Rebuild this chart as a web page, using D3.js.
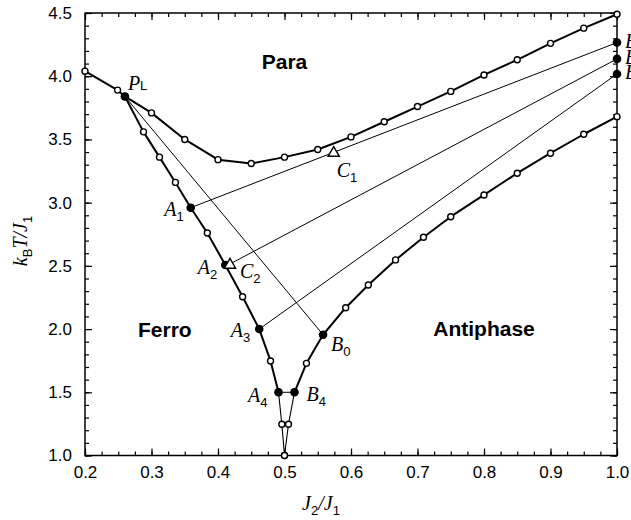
<!DOCTYPE html>
<html>
<head>
<meta charset="utf-8">
<script src="https://cdn.jsdelivr.net/npm/d3@7/dist/d3.min.js"></script>
<style>
  body { margin: 0; background: #fff; }
  svg { display: block; }
</style>
</head>
<body>
<svg width="631" height="520"></svg>
<script>
// ---- dados (J2/J1, kT/J1)
const paraJ = [0.2, 0.249, 0.26, 0.30, 0.35, 0.40, 0.45, 0.50, 0.55, 0.60, 0.65, 0.70, 0.75, 0.80, 0.85, 0.90, 0.95, 1.0];
const paraT = [4.04, 3.89, 3.84, 3.71, 3.50, 3.34, 3.31, 3.36, 3.42, 3.52, 3.64, 3.76, 3.88, 4.01, 4.13, 4.26, 4.38, 4.49];

const ferroJ = [0.26, 0.288, 0.312, 0.336, 0.359, 0.384, 0.411, 0.437, 0.462, 0.479, 0.491, 0.496, 0.5];
const ferroT = [3.84, 3.56, 3.36, 3.16, 2.96, 2.76, 2.507, 2.256, 2.0, 1.748, 1.5, 1.247, 1.0];

const antiJ = [0.5, 0.506, 0.515, 0.533, 0.558, 0.592, 0.626, 0.667, 0.709, 0.75, 0.80, 0.85, 0.90, 0.95, 1.0];
const antiT = [1.0, 1.247, 1.5, 1.729, 1.955, 2.169, 2.349, 2.547, 2.726, 2.889, 3.061, 3.233, 3.391, 3.541, 3.68];

// pontos cheios
const filledNames = ['P_L', 'A1', 'A2', 'A3', 'A4', 'B0', 'B4', 'B1', 'B2', 'B3'];
const filledJ = [0.26, 0.359, 0.411, 0.462, 0.491, 0.558, 0.515, 1.0, 1.0, 1.0];
const filledT = [3.84, 2.96, 2.507, 2.0, 1.5, 1.955, 1.5, 4.266, 4.137, 4.018];

// triângulos
const triNames = ['C1', 'C2'];
const triJ = [0.574, 0.418];
const triT = [3.40, 2.515];

// linhas finas (de -> para)
const tieFrom = ['P_L', 'A1', 'C2', 'A3', 'A4'];
const tieTo = ['B0', 'B1', 'B2', 'B3', 'B4'];

// regiões
const regionNames = ['Para', 'Ferro', 'Antiphase'];
const regionJ = [0.5, 0.32, 0.80];
const regionT = [4.06, 1.94, 1.945];

// ticks
const xTicks = [0.2, 0.3, 0.4, 0.5, 0.6, 0.7, 0.8, 0.9, 1.0];
const yTicks = [1.0, 1.5, 2.0, 2.5, 3.0, 3.5, 4.0, 4.5];

const sans = '"Liberation Sans", Arial, Helvetica, sans-serif';
const serif = '"Liberation Serif", "Times New Roman", Times, serif';

const svg = d3.select('svg');
const margens = { left: 85, right: 14, top: 13, bottom: 64.5 };
const W = 631, H = 520;

const x = d3.scaleLinear().domain([0.2, 1.0]).range([margens.left, W - margens.right]);
const y = d3.scaleLinear().domain([1.0, 4.5]).range([H - margens.bottom, margens.top]);

const fmt = d3.format('.1f');

// ---- Eixos (ticks para dentro, nos 4 lados)
const xMinor = d3.range(0.2, 1.0001, 0.025);
const yMinor = d3.range(1.0, 4.5001, 0.1);

function clean(g) {
    g.select('.domain').remove();
    g.selectAll('line').attr('stroke', '#000').attr('stroke-width', 1.2);
    g.attr('font-family', sans).attr('font-size', 17);
    g.selectAll('text').attr('fill', '#000');
}

const bottomY = H - margens.bottom;
const rightX = W - margens.right;

svg.append('g').attr('transform', `translate(0,${bottomY})`)
    .call(d3.axisBottom(x).tickValues(xMinor).tickSize(-4).tickFormat('')).call(clean);
svg.append('g').attr('transform', `translate(0,${bottomY})`)
    .call(d3.axisBottom(x).tickValues(xTicks).tickSize(-7).tickPadding(10).tickFormat(fmt)).call(clean);
svg.append('g').attr('transform', `translate(0,${margens.top})`)
    .call(d3.axisTop(x).tickValues(xMinor).tickSize(-4).tickFormat('')).call(clean);
svg.append('g').attr('transform', `translate(0,${margens.top})`)
    .call(d3.axisTop(x).tickValues(xTicks).tickSize(-7).tickFormat('')).call(clean);

svg.append('g').attr('transform', `translate(${margens.left},0)`)
    .call(d3.axisLeft(y).tickValues(yMinor).tickSize(-4).tickFormat('')).call(clean);
svg.append('g').attr('transform', `translate(${margens.left},0)`)
    .call(d3.axisLeft(y).tickValues(yTicks).tickSize(-7).tickPadding(13).tickFormat(fmt)).call(clean);
svg.append('g').attr('transform', `translate(${rightX},0)`)
    .call(d3.axisRight(y).tickValues(yMinor).tickSize(-4).tickFormat('')).call(clean);
svg.append('g').attr('transform', `translate(${rightX},0)`)
    .call(d3.axisRight(y).tickValues(yTicks).tickSize(-7).tickFormat('')).call(clean);

svg.append('rect')
    .attr('x', margens.left).attr('y', margens.top)
    .attr('width', rightX - margens.left).attr('height', bottomY - margens.top)
    .attr('fill', 'none').attr('stroke', '#000').attr('stroke-width', 1.5);

// ---- Curvas
const zip = (js, ts) => js.map((j, i) => ({ j, t: ts[i] }));
const para = zip(paraJ, paraT);
const ferro = zip(ferroJ, ferroT);
const anti = zip(antiJ, antiT);

const line = d3.line().x(d => x(d.j)).y(d => y(d.t));
const plot = svg.append('g').attr('id', 'group');

// abaixo de A4 / B4 o traço é fino
const iA4 = ferro.findIndex(d => d.t === 1.5);
const iB4 = anti.findIndex(d => d.t === 1.5);

const thick = [para, ferro.slice(0, iA4 + 1), anti.slice(iB4)];
const thin = [ferro.slice(iA4), anti.slice(0, iB4 + 1)];

const filled = filledNames.map((n, i) => ({ n, j: filledJ[i], t: filledT[i] }));
const tris = triNames.map((n, i) => ({ n, j: triJ[i], t: triT[i] }));
const byName = {};
filled.concat(tris).forEach(d => byName[d.n] = d);
const ties = tieFrom.map((f, i) => [byName[f], byName[tieTo[i]]]);

plot.selectAll('.tie').data(ties).join('path')
    .attr('class', 'tie')
    .attr('d', line)
    .attr('fill', 'none').attr('stroke', '#000').attr('stroke-width', 1);

plot.selectAll('.thin').data(thin).join('path')
    .attr('class', 'thin')
    .attr('d', line)
    .attr('fill', 'none').attr('stroke', '#000').attr('stroke-width', 1.1);

plot.selectAll('.thick').data(thick).join('path')
    .attr('class', 'thick')
    .attr('d', line)
    .attr('fill', 'none').attr('stroke', '#000').attr('stroke-width', 2)
    .attr('stroke-linejoin', 'round');

// círculos abertos
plot.selectAll('.open').data(para.concat(ferro, anti)).join('circle')
    .attr('class', 'open')
    .attr('cx', d => x(d.j)).attr('cy', d => y(d.t))
    .attr('r', 3)
    .attr('fill', '#fff').attr('stroke', '#000').attr('stroke-width', 1.4);

// círculos cheios
plot.selectAll('.full').data(filled).join('circle')
    .attr('class', 'full')
    .attr('cx', d => x(d.j)).attr('cy', d => y(d.t))
    .attr('r', 4.3)
    .attr('fill', '#000');

// triângulos
const tri = d3.symbol().type(d3.symbolTriangle).size(55);
plot.selectAll('.tri').data(tris).join('path')
    .attr('class', 'tri')
    .attr('transform', d => `translate(${x(d.j)},${y(d.t) + 1})`)
    .attr('d', tri)
    .attr('fill', '#fff').attr('stroke', '#000').attr('stroke-width', 1.4);

// ---- Rótulos dos pontos
const labelStyle = {
    P_L: [3, -6, 'start', 0], A1: [-7, 8, 'end', 5], A2: [-8, 9, 'end', 5],
    C2: [10, 14, 'start', 5], A3: [-9, 8, 'end', 5], A4: [-11, 10, 'end', 5],
    B4: [12, 9, 'start', 5], B0: [8, 16, 'start', 5], C1: [3, 25, 'start', 5],
    B1: [8, 5, 'start', 5], B2: [8, 5, 'start', 5], B3: [8, 5, 'start', 5]
};

function subLabel(sel, main, sub, subDy) {
    sel.append('tspan')
        .attr('font-family', serif).attr('font-style', 'italic').attr('font-size', 20)
        .text(main);
    sel.append('tspan')
        .attr('font-family', sans).attr('font-size', 13).attr('dy', subDy)
        .text(sub);
}

const labels = svg.append('g').attr('id', 'labels');
Object.keys(labelStyle).forEach(n => {
    const p = byName[n];
    const [dx, dy, anchor, subDy] = labelStyle[n];
    const name = n.replace('_', '');
    const t = labels.append('text')
        .attr('x', x(p.j) + dx).attr('y', y(p.t) + dy)
        .attr('text-anchor', anchor).attr('fill', '#000');
    subLabel(t, name[0], name.slice(1), subDy);
});

// ---- Regiões
svg.selectAll('.region').data(regionNames).join('text')
    .attr('class', 'region')
    .attr('x', (d, i) => x(regionJ[i]))
    .attr('y', (d, i) => y(regionT[i]))
    .attr('text-anchor', 'middle')
    .attr('font-family', sans).attr('font-weight', 700).attr('font-size', 21)
    .text(d => d);

// ---- Títulos dos eixos
const xLabel = svg.append('text')
    .attr('x', 321).attr('y', 510)
    .attr('text-anchor', 'middle');
subLabel(xLabel, 'J', '2', 5);
xLabel.append('tspan').attr('font-family', serif).attr('font-style', 'italic').attr('font-size', 20)
    .attr('dy', -5).text('/J');
xLabel.append('tspan').attr('font-family', sans).attr('font-size', 13).attr('dy', 5).text('1');

const yLabel = svg.append('text')
    .attr('transform', 'translate(27,241) rotate(-90)')
    .attr('text-anchor', 'middle');
subLabel(yLabel, 'k', 'B', 5);
yLabel.append('tspan').attr('font-family', serif).attr('font-style', 'italic').attr('font-size', 20)
    .attr('dy', -5).text('T/J');
yLabel.append('tspan').attr('font-family', sans).attr('font-size', 13).attr('dy', 5).text('1');
</script>
</body>
</html>
